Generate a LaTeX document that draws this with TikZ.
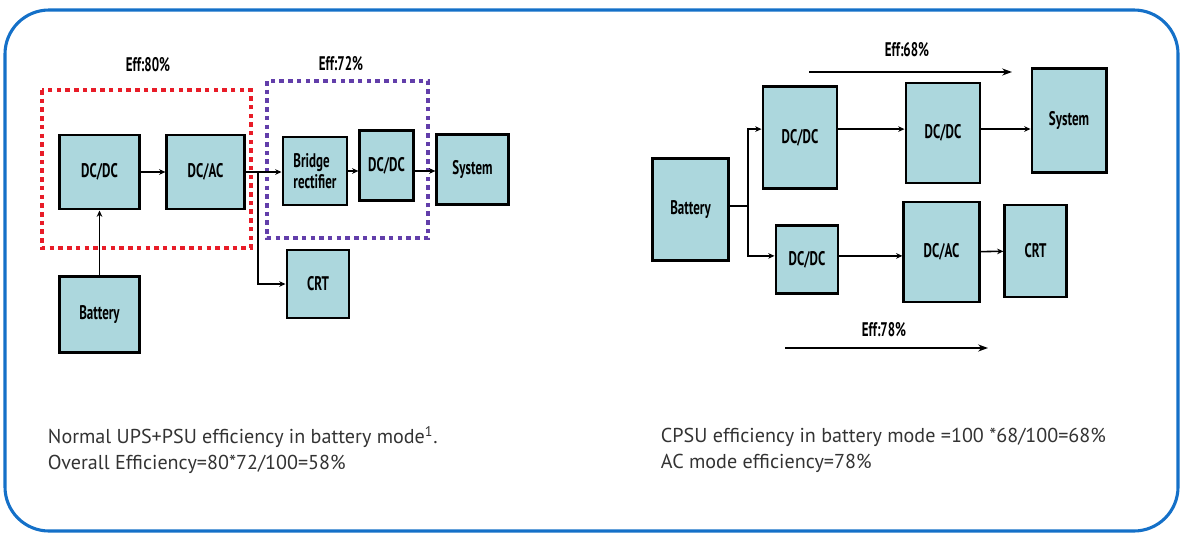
\documentclass[tikz,border=0pt]{standalone}
\usepackage{fontspec}
\setmainfont{PT Sans}[FakeStretch=0.66]
\newfontfamily\notefont{PT Sans}
\usepackage{tikz}
\usetikzlibrary{positioning, arrows.meta}
\definecolor{boxfill}{RGB}{172,215,221}
\definecolor{frameblue}{RGB}{20,112,200}
\definecolor{effred}{RGB}{232,28,40}
\definecolor{effpurple}{RGB}{98,62,170}

\begin{document}
\begin{tikzpicture}[
    x=0.025cm, y=-0.025cm,
    box/.style={draw, line width=2.1pt, fill=boxfill, align=center, font=\bfseries\fontsize{14}{14.5}\selectfont, inner sep=1pt},
    arrow/.style={-{Stealth[length=4.5pt, width=4pt]}, line width=1.1pt},
    line/.style={line width=1.1pt},
    effarrow/.style={-{Stealth[length=7pt, width=5pt]}, line width=1.4pt},
    efflbl/.style={font=\bfseries\fontsize{14}{14.5}\selectfont},
    effbox/.style={line width=2.8pt, dash pattern=on 3.2pt off 3pt},
    note/.style={font=\notefont\fontsize{14.3}{18.5}\selectfont, align=left, anchor=west, text=black!80}
]
\useasboundingbox (0,0) rectangle (1183,533);
\draw[frameblue, line width=2.2pt, rounded corners=1.1cm] (5,10) rectangle (1178,531);

% normal UPS + PSU
\draw[effred, effbox] (42,90) rectangle (251,248);
\draw[effpurple, effbox] (267,81) rectangle (428,238);
\node[efflbl] (eff80) at (148,65) {Eff:80\%};
\node[efflbl] (eff72) at (341,64) {Eff:72\%};

\node[box, minimum width=1.98cm, minimum height=1.85cm] (dcdcL) at (99.5,172) {DC/DC};
\node[box, minimum width=1.93cm, minimum height=1.85cm] (dcacL) at (205.5,172) {DC/AC};
\node[box, minimum width=1.98cm, minimum height=1.88cm] (batL) at (99.5,314.5) {Battery};
\node[box, minimum width=1.6cm, minimum height=1.7cm, align=left] (bridge) at (315,171) {Bridge\\rectifier};
\node[box, minimum width=1.33cm, minimum height=1.73cm] (dcdcL2) at (386.5,165.5) {DC/DC};
\node[box, minimum width=1.78cm, minimum height=1.73cm] (sysL) at (472.5,169.5) {System};
\node[box, minimum width=1.55cm, minimum height=1.7cm] (crtL) at (318,284) {CRT};
\coordinate (splitL) at (258,172);

\draw[arrow] (batL) -- (dcdcL);
\draw[arrow] (dcdcL) -- (dcacL);
\draw[arrow] (dcacL.east) -- (dcacL.east -| bridge.west);
\draw[arrow] (splitL) |- (crtL.west);
\draw[arrow] (bridge.east) -- (bridge.east -| dcdcL2.west);
\draw[arrow] (dcdcL2.east |- bridge.east) -- (bridge.east -| sysL.west);

% CPSU
\node[box, minimum width=1.88cm, minimum height=2.53cm] (batR) at (690.5,209.5) {Battery};
\node[box, minimum width=1.85cm, minimum height=2.53cm] (dcdcA) at (800,137.5) {DC/DC};
\node[box, minimum width=1.85cm, minimum height=2.5cm] (dcdcB) at (943,133) {DC/DC};
\node[box, minimum width=1.85cm, minimum height=2.58cm] (sysR) at (1069,120.5) {System};
\node[box, minimum width=1.55cm, minimum height=1.68cm] (dcdcC) at (807,259.5) {DC/DC};
\node[box, minimum width=1.88cm, minimum height=2.5cm] (dcacR) at (941.5,252) {DC/AC};
\node[box, minimum width=1.53cm, minimum height=2.3cm] (crtR) at (1035.5,251) {CRT};
\coordinate (splitR) at (748,206);

\draw[line] (batR.east |- splitR) -- (splitR);
\draw[arrow] (splitR) |- ([yshift=0.21cm]dcdcA.west);
\draw[arrow] (splitR) |- ([yshift=0.09cm]dcdcC.west);
\draw[arrow] ([yshift=0.21cm]dcdcA.east) -- ([yshift=0.21cm]dcdcA.east -| dcdcB.west);
\draw[arrow] ([yshift=0.1cm]dcdcB.east) -- ([yshift=0.1cm]dcdcB.east -| sysR.west);
\draw[arrow] ([yshift=0.09cm]dcdcC.east) -- ([yshift=0.09cm]dcdcC.east -| dcacR.west);
\draw[arrow] (dcacR) -- (crtR);

\coordinate (e68a) at (809,72);
\coordinate (e68b) at (1012,72);
\coordinate (e78a) at (785,348);
\coordinate (e78b) at (988,348);
\draw[effarrow] (e68a) -- (e68b);
\draw[effarrow] (e78a) -- (e78b);
\node[efflbl] (eff68) at (907,50) {Eff:68\%};
\node[efflbl] (eff78) at (884,330) {Eff:78\%};

% notes
\node[note] (noteL) at (43,450) {Normal UPS+PSU efficiency in battery mode\textsuperscript{1}.\\Overall Efficiency=80*72/100=58\%};
\node[note] (noteR) at (656,450) {CPSU efficiency in battery mode =100 *68/100=68\%\\AC mode efficiency=78\%};
\end{tikzpicture}
\end{document}
